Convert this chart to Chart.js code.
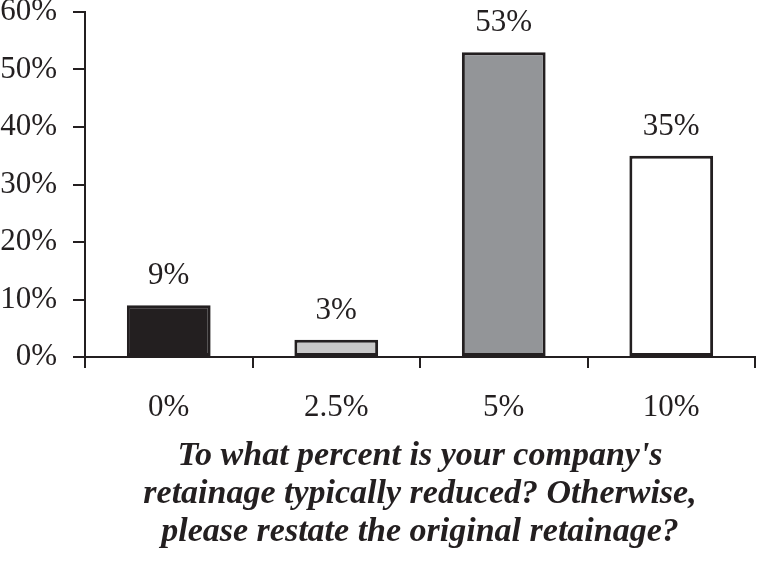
<!DOCTYPE html>
<html>
<head>
<meta charset="utf-8">
<script src="https://cdn.jsdelivr.net/npm/chart.js@4"></script>
<style>
  html, body { margin: 0; padding: 0; background: #fff; }
  #wrap { width: 757px; height: 565px; }
</style>
</head>
<body>
<div id="wrap"><canvas id="retainageChart"></canvas></div>
<script>
// данные с картинки
const categories = ["0%", "2.5%", "5%", "10%"];
const shares = [9, 3, 53, 35];
const barColors = ["#231f20", "#c8c8c8", "#939598", "#ffffff"];
const axisTitle = [
  "To what percent is your company's",
  "retainage typically reduced? Otherwise,",
  "please restate the original retainage?"
];

const ink = "#231f20";
const serif = "'Liberation Serif', 'Times New Roman', serif";

// подписи над столбиками
const barLabels = {
  id: "barLabels",
  afterDatasetsDraw(chart) {
    const ctx = chart.ctx;
    const meta = chart.getDatasetMeta(0);
    ctx.save();
    ctx.font = "31px " + serif;
    ctx.fillStyle = ink;
    ctx.textAlign = "center";
    ctx.textBaseline = "alphabetic";
    meta.data.forEach((bar, i) => {
      ctx.fillText(shares[i] + "%", bar.x, bar.y - 21);
    });
    ctx.restore();
  }
};

new Chart(document.getElementById("retainageChart"), {
  type: "bar",
  data: {
    labels: categories,
    datasets: [{
      data: shares,
      backgroundColor: barColors,
      borderColor: ink,
      borderWidth: 3,
      borderSkipped: false,
      categoryPercentage: 1,
      barPercentage: 0.5
    }]
  },
  options: {
    responsive: true,
    maintainAspectRatio: false,
    animation: false,
    layout: { padding: { top: 0, right: 2, bottom: 0, left: 0 } },
    plugins: {
      legend: { display: false },
      tooltip: { enabled: false }
    },
    scales: {
      x: {
        afterFit: (s) => { s.height = 208; },
        grid: {
          offset: true,
          drawOnChartArea: false,
          color: ink,
          lineWidth: 2,
          tickLength: 11
        },
        border: { color: ink, width: 2 },
        ticks: {
          color: ink,
          padding: 21,
          font: { family: serif, size: 31 }
        },
        title: {
          display: true,
          text: axisTitle,
          color: ink,
          padding: { top: 0, bottom: 14 },
          font: { family: serif, size: 34, weight: "bold", style: "italic", lineHeight: 1.12 }
        }
      },
      y: {
        min: 0,
        max: 60,
        afterFit: (s) => {
          s.width = 85;
          s.paddingTop = 12; // верх оси как на картинке
          s.paddingBottom = 0;
        },
        grid: {
          drawOnChartArea: false,
          color: ink,
          lineWidth: 2,
          tickLength: 12
        },
        border: { color: ink, width: 2 },
        ticks: {
          stepSize: 10,
          color: ink,
          padding: 16,
          font: { family: serif, size: 31 },
          callback: (v) => v + "%"
        }
      }
    }
  },
  plugins: [barLabels]
});
</script>
</body>
</html>
